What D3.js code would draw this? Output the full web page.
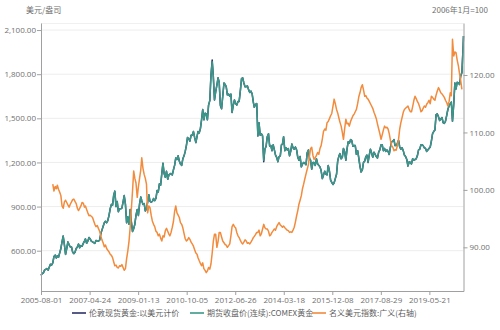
<!DOCTYPE html>
<html>
<head>
<meta charset="utf-8">
<script src="https://cdn.jsdelivr.net/npm/d3@7"></script>
<style>
  body { margin: 0; background: #fff; }
  text { font-family: "Open Sans", "Noto Sans", "Noto Sans CJK SC", sans-serif; }
</style>
</head>
<body>
<svg id="chart" width="500" height="330"></svg>
<script>
// Gold, USD/oz, sampled on the 1st and 16th of each month from 2005-08-01,
// with a final close on 2020-08-06.
const comexGold = [
  432, 445, 448, 468, 473, 478, 468, 488, 508, 502,
  517, 560, 570, 550, 565, 555, 585, 615, 660, 700, 640, 575, 615, 660, 640, 625, 625, 590, 580, 590, 615, 625, 645, 620,
  635, 630, 650, 665, 680, 650, 665, 690, 680, 665, 660, 655, 650, 670, 665, 665, 672, 715, 740, 765, 790, 800, 790, 805,
  840, 885, 915, 910, 975, 1005, 900, 935, 865, 885, 885, 890, 930, 975, 915, 790, 830, 780, 880, 800, 730, 750, 780, 840,
  880, 840, 920, 965, 940, 915, 920, 870, 885, 930, 980, 935, 930, 935, 955, 940, 955, 1010, 1000, 1055, 1045, 1125, 1195, 1125,
  1100, 1140, 1085, 1115, 1120, 1125, 1115, 1150, 1180, 1230, 1220, 1245, 1210, 1190, 1180, 1225, 1245, 1275, 1315, 1370, 1360, 1345, 1385, 1385,
  1410, 1370, 1335, 1375, 1410, 1400, 1430, 1490, 1560, 1490, 1535, 1530, 1490, 1590, 1620, 1790, 1885, 1780, 1625, 1680, 1725, 1775, 1745, 1595,
  1565, 1650, 1740, 1730, 1715, 1660, 1665, 1650, 1665, 1540, 1590, 1625, 1600, 1590, 1615, 1615, 1690, 1770, 1775, 1740, 1715, 1715, 1720, 1695,
  1675, 1685, 1665, 1610, 1575, 1595, 1600, 1380, 1470, 1385, 1395, 1380, 1215, 1290, 1310, 1375, 1395, 1310, 1315, 1280, 1320, 1285, 1250, 1235,
  1205, 1240, 1245, 1320, 1325, 1375, 1280, 1300, 1285, 1295, 1245, 1275, 1325, 1300, 1290, 1305, 1285, 1235, 1215, 1240, 1170, 1190, 1200, 1195,
  1185, 1265, 1285, 1225, 1215, 1155, 1200, 1200, 1180, 1225, 1190, 1180, 1170, 1145, 1090, 1115, 1140, 1120, 1115, 1180, 1140, 1080, 1065, 1050,
  1062, 1090, 1120, 1210, 1240, 1260, 1225, 1235, 1295, 1275, 1215, 1290, 1340, 1330, 1355, 1350, 1310, 1315, 1315, 1255, 1280, 1230, 1175, 1135,
  1150, 1200, 1210, 1240, 1250, 1200, 1250, 1290, 1265, 1235, 1270, 1255, 1240, 1230, 1270, 1285, 1320, 1320, 1280, 1295, 1275, 1285, 1275, 1255,
  1305, 1340, 1345, 1355, 1315, 1315, 1330, 1350, 1305, 1290, 1300, 1280, 1250, 1240, 1220, 1175, 1205, 1200, 1190, 1225, 1215, 1220, 1225, 1245,
  1285, 1290, 1320, 1320, 1315, 1300, 1295, 1275, 1285, 1295, 1305, 1345, 1395, 1410, 1420, 1525, 1530, 1510, 1485, 1495, 1505, 1470, 1465, 1480,
  1520, 1560, 1585, 1600, 1610, 1480, 1595, 1740, 1700, 1745, 1740, 1730, 1790, 1810, 1985, 2060
];

const londonGold = [
  432, 445, 448, 468, 473, 478, 468, 488, 508, 502,
  517, 560, 570, 550, 565, 555, 585, 615, 660, 700, 640, 575, 615, 660, 640, 625, 625, 590, 580, 590, 615, 625, 645, 620,
  635, 630, 650, 665, 680, 650, 665, 690, 680, 665, 660, 655, 650, 670, 665, 665, 672, 715, 740, 765, 790, 800, 790, 805,
  840, 885, 915, 910, 975, 1005, 900, 935, 865, 885, 885, 890, 930, 975, 915, 790, 830, 780, 880, 800, 730, 750, 780, 840,
  880, 840, 920, 965, 940, 915, 920, 870, 885, 930, 980, 935, 930, 935, 955, 940, 955, 1010, 1000, 1055, 1045, 1125, 1195, 1125,
  1100, 1140, 1085, 1115, 1120, 1125, 1115, 1150, 1180, 1230, 1220, 1245, 1210, 1190, 1180, 1225, 1245, 1275, 1315, 1370, 1360, 1345, 1385, 1385,
  1410, 1370, 1335, 1375, 1410, 1400, 1430, 1490, 1560, 1490, 1535, 1530, 1490, 1590, 1620, 1790, 1897, 1780, 1625, 1680, 1725, 1775, 1745, 1585,
  1565, 1650, 1740, 1730, 1715, 1660, 1665, 1650, 1665, 1540, 1590, 1625, 1600, 1590, 1615, 1615, 1690, 1770, 1775, 1740, 1715, 1715, 1720, 1695,
  1675, 1685, 1665, 1610, 1575, 1595, 1600, 1380, 1470, 1385, 1395, 1380, 1205, 1290, 1310, 1375, 1395, 1310, 1315, 1280, 1320, 1285, 1250, 1235,
  1205, 1240, 1245, 1320, 1325, 1375, 1280, 1300, 1285, 1295, 1245, 1275, 1325, 1300, 1290, 1305, 1285, 1235, 1215, 1240, 1170, 1190, 1200, 1195,
  1185, 1265, 1285, 1225, 1215, 1155, 1200, 1200, 1180, 1225, 1190, 1180, 1170, 1145, 1090, 1115, 1140, 1120, 1115, 1180, 1140, 1080, 1065, 1050,
  1062, 1090, 1120, 1210, 1240, 1260, 1225, 1235, 1295, 1275, 1215, 1290, 1340, 1330, 1355, 1350, 1310, 1315, 1315, 1255, 1280, 1230, 1175, 1135,
  1150, 1200, 1210, 1240, 1250, 1200, 1250, 1290, 1265, 1235, 1270, 1255, 1240, 1230, 1270, 1285, 1320, 1320, 1280, 1295, 1275, 1285, 1275, 1255,
  1305, 1340, 1345, 1355, 1315, 1315, 1330, 1350, 1305, 1290, 1300, 1280, 1250, 1240, 1220, 1175, 1205, 1200, 1190, 1225, 1215, 1220, 1225, 1245,
  1285, 1290, 1320, 1320, 1315, 1300, 1295, 1275, 1285, 1295, 1305, 1345, 1395, 1410, 1420, 1525, 1530, 1510, 1485, 1495, 1505, 1470, 1465, 1480,
  1520, 1560, 1585, 1600, 1610, 1480, 1595, 1740, 1700, 1745, 1740, 1730, 1790, 1810, 1985, 2060
];

// Nominal broad dollar index (Jan 2006 = 100), 1st and 16th of each month from 2006-01-01.
const dollarIndex = [
  101.0, 99.8, 100.6, 100.2, 100.8, 100.1, 99.6, 99.0, 97.2, 96.8, 97.9, 98.2, 97.8, 97.4, 97.0, 97.5, 97.9, 98.3, 98.4, 98.0, 97.6, 96.8, 96.4, 96.8,
  97.2, 97.8, 97.7, 97.0, 97.2, 96.6, 96.0, 95.5, 95.6, 95.4, 95.2, 94.6, 94.0, 93.6, 93.8, 93.3, 92.8, 92.0, 91.3, 90.8, 90.1, 90.4, 89.8, 89.5,
  89.2, 88.8, 88.6, 88.2, 87.5, 86.8, 86.9, 86.5, 86.4, 86.8, 86.7, 87.0, 86.5, 86.0, 86.3, 88.0, 89.4, 91.0, 93.4, 96.5, 99.8, 103.3, 102.0, 101.2,
  98.7, 100.5, 102.1, 103.5, 105.6, 103.8, 102.7, 102.0, 101.0, 96.0, 97.2, 96.9, 95.6, 94.6, 94.0, 93.6, 92.8, 92.6, 92.0, 92.3, 91.6, 91.1, 92.0, 91.8,
  92.9, 93.3, 92.8, 92.3, 92.0, 92.6, 93.5, 94.5, 96.2, 97.2, 96.0, 95.6, 95.2, 94.3, 94.0, 93.4, 92.4, 91.5, 91.1, 91.3, 91.7, 91.4, 90.9, 90.6,
  90.2, 89.6, 89.0, 88.8, 88.2, 87.7, 87.2, 86.8, 87.3, 86.3, 86.0, 85.6, 85.9, 86.5, 86.2, 87.1, 89.0, 91.1, 92.3, 92.3, 90.0, 91.0, 92.6, 92.6,
  91.8, 91.1, 90.8, 90.5, 90.4, 90.0, 90.3, 90.6, 92.0, 93.6, 94.0, 93.6, 93.4, 92.6, 92.0, 91.7, 91.2, 90.8, 90.6, 90.9, 91.3, 91.1, 90.7, 90.8,
  90.6, 90.9, 91.3, 91.7, 91.9, 92.2, 92.6, 92.6, 93.0, 92.0, 92.4, 93.2, 94.0, 93.4, 93.2, 93.2, 92.8, 92.0, 92.2, 92.6, 92.9, 93.2, 93.0, 93.6,
  94.0, 94.3, 93.9, 93.7, 93.5, 93.7, 93.4, 93.2, 93.0, 92.9, 92.6, 92.7, 92.6, 93.0, 93.5, 94.4, 95.5, 96.4, 97.5, 98.2, 99.0, 100.2, 101.0, 101.9,
  102.8, 103.6, 104.4, 106.0, 107.2, 107.4, 106.0, 105.3, 105.6, 106.0, 106.5, 106.2, 107.2, 107.7, 108.9, 110.2, 110.6, 110.4, 111.7, 111.9, 112.4, 112.9, 113.3, 114.5,
  115.8, 115.0, 114.0, 113.4, 112.6, 111.8, 111.1, 110.0, 108.8, 110.6, 112.3, 111.5, 111.6, 111.1, 111.9, 112.4, 112.9, 113.2, 113.6, 114.0, 115.0, 116.2, 116.9, 117.8,
  118.3, 117.4, 116.3, 116.4, 116.0, 115.8, 115.4, 115.0, 114.6, 114.2, 113.5, 113.0, 112.4, 111.5, 110.6, 109.8, 108.8, 109.6, 110.4, 111.1, 110.8, 110.9, 110.6, 109.8,
  108.6, 107.7, 107.4, 106.8, 107.0, 106.9, 107.7, 108.8, 110.6, 111.7, 112.6, 113.5, 114.0, 114.2, 114.4, 114.6, 114.0, 113.6, 113.6, 114.5, 115.6, 116.3, 115.9, 115.4,
  115.0, 114.4, 113.6, 113.8, 114.2, 114.6, 114.4, 114.9, 115.2, 115.6, 115.0, 116.3, 116.1, 115.8, 115.6, 116.5, 117.2, 117.8, 117.4, 116.9, 116.7, 116.4, 116.1, 115.6,
  115.2, 114.6, 115.4, 116.9, 116.4, 126.2, 123.3, 124.0, 123.9, 122.6, 121.6, 120.2, 119.0, 117.5
];

const goldStart = [2005, 8];
const goldFinalDate = "2020-08-06";
const dollarStart = [2006, 1];

const xTickLabels = ["2005-08-01", "2007-04-24", "2009-01-13", "2010-10-05", "2012-06-26",
                     "2014-03-18", "2015-12-08", "2017-08-29", "2019-05-21"];
const leftTicks = [600, 900, 1200, 1500, 1800, 2100];
const rightTicks = [90, 100, 110, 120];

const seriesNames = ["伦敦现货黄金:以美元计价", "期货收盘价(连续):COMEX黄金", "名义美元指数:广义(右轴)"];
const colors = ["#2e3168", "#3a9888", "#f28b3c"];

const parseDate = d3.timeParse("%Y-%m-%d");

// Dates on the 1st and 16th of consecutive months.
function halfMonthDates(year, month, n) {
  const out = [];
  for (let i = 0; i < n; i++) {
    const mo = month - 1 + Math.floor(i / 2);
    out.push(new Date(year, mo, i % 2 ? 16 : 1));
  }
  return out;
}

const goldDates = halfMonthDates(goldStart[0], goldStart[1], comexGold.length - 1)
  .concat([parseDate(goldFinalDate)]);
const dollarDates = halfMonthDates(dollarStart[0], dollarStart[1], dollarIndex.length);

const svg = d3.select("#chart");
const plot = { left: 41, right: 463.5, top: 23, bottom: 291 };

const x = d3.scaleTime()
  .domain([new Date(2005, 7, 1), parseDate(goldFinalDate)])
  .range([plot.left, plot.right]);
const yL = d3.scaleLinear().domain([326, 2148]).range([plot.bottom, plot.top]);
const yR = d3.scaleLinear().domain([82.4, 129.05]).range([plot.bottom, plot.top]);

// grid
svg.append("g").selectAll("line").data(leftTicks).join("line")
  .attr("x1", plot.left).attr("x2", plot.right)
  .attr("y1", d => yL(d)).attr("y2", d => yL(d))
  .attr("stroke", "#ededed").attr("stroke-width", 1);
svg.append("line")
  .attr("x1", plot.left).attr("x2", plot.right)
  .attr("y1", plot.top + 0.5).attr("y2", plot.top + 0.5)
  .attr("stroke", "#f0f0f0");

// series
const line = (xs, ys, scale) => d3.line()
  .x((d, i) => x(xs[i]))
  .y(d => scale(d))(ys);

[[goldDates, londonGold, yL], [goldDates, comexGold, yL], [dollarDates, dollarIndex, yR]]
  .forEach(([xs, ys, scale], i) => {
    svg.append("path").attr("d", line(xs, ys, scale))
      .attr("fill", "none").attr("stroke", colors[i]).attr("stroke-width", 1.5)
      .attr("stroke-linejoin", "round");
  });

// axes
const axisColor = "#a0a0a0";
const labelColor = "#707070";

const gL = svg.append("g").attr("transform", `translate(${plot.left},0)`)
  .call(d3.axisLeft(yL).tickValues(leftTicks).tickFormat(d3.format(",.2f")).tickSize(4).tickSizeOuter(0));
const gR = svg.append("g").attr("transform", `translate(${plot.right},0)`)
  .call(d3.axisRight(yR).tickValues(rightTicks).tickFormat(d3.format(".2f")).tickSize(4).tickSizeOuter(0));
const gB = svg.append("g").attr("transform", `translate(0,${plot.bottom})`)
  .call(d3.axisBottom(x).tickValues(xTickLabels.map(parseDate))
    .tickFormat(d3.timeFormat("%Y-%m-%d")).tickSize(4).tickSizeOuter(0));

[gL, gR, gB].forEach(g => {
  g.select(".domain").attr("stroke", axisColor);
  g.selectAll(".tick line").attr("stroke", axisColor);
  g.selectAll("text").attr("fill", labelColor)
    .style("font-size", "8px").style("font-family", "'Open Sans', 'Noto Sans', sans-serif");
});
gL.selectAll("text").attr("x", -5);
gR.selectAll("text").attr("x", 6);
gB.selectAll("text").attr("y", 6);

// axis titles
svg.append("text").attr("x", 26).attr("y", 13)
  .attr("fill", labelColor).style("font-size", "8px")
  .style("font-family", "'Noto Sans CJK SC', sans-serif")
  .text("美元/盎司");
svg.append("text").attr("x", 488).attr("y", 13).attr("text-anchor", "end")
  .attr("fill", labelColor).style("font-size", "8px")
  .style("font-family", "'Noto Sans CJK SC', sans-serif")
  .text("2006年1月=100");

// legend
const legendX = [72, 190, 312];
const legend = svg.append("g").selectAll("g").data(seriesNames).join("g")
  .attr("transform", (d, i) => `translate(${legendX[i]},313)`);
legend.append("line").attr("x1", 0).attr("x2", 14).attr("y1", 0).attr("y2", 0)
  .attr("stroke", (d, i) => colors[i]).attr("stroke-width", 1.6);
legend.append("text").attr("x", 17).attr("y", 3)
  .attr("fill", "#606060").style("font-size", "8px")
  .style("font-family", "'Noto Sans CJK SC', sans-serif")
  .text(d => d);
</script>
</body>
</html>
